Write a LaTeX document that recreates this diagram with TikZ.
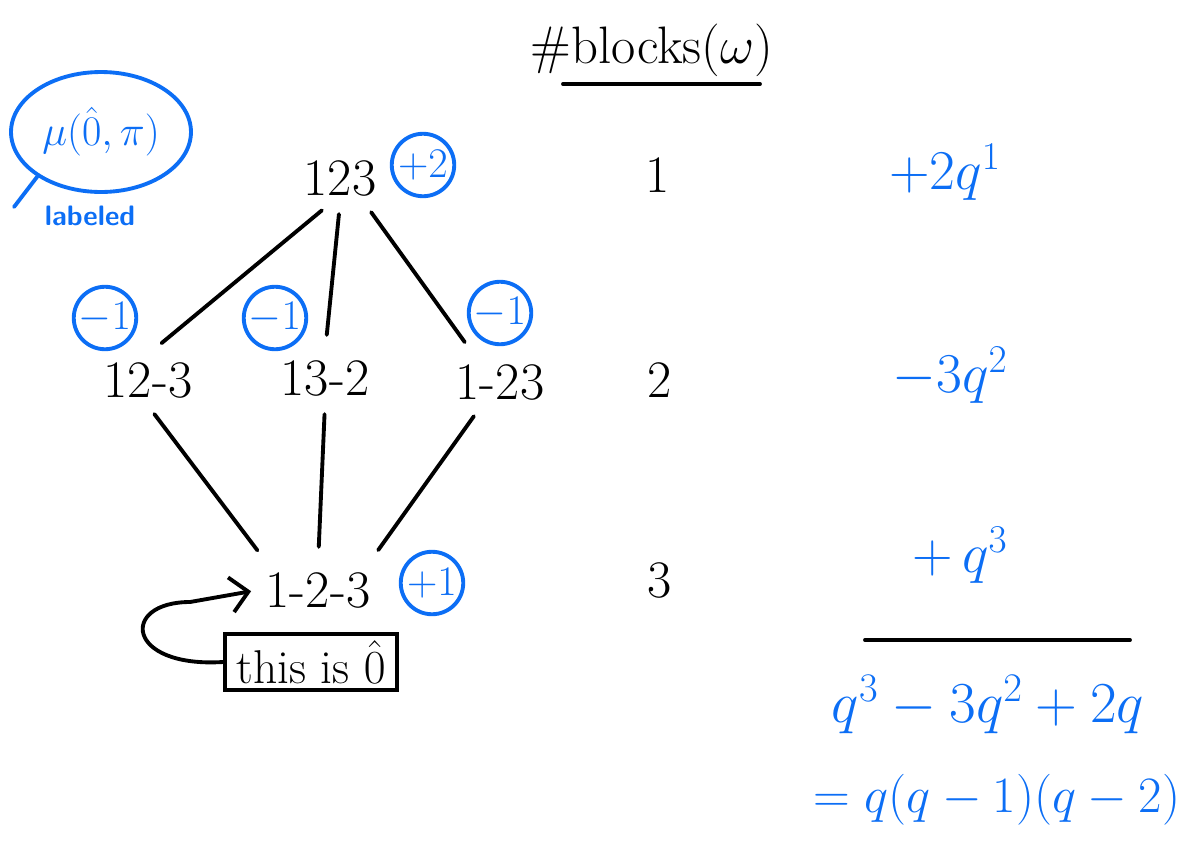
\RequirePackage{fix-cm}
\documentclass[tikz,border=0pt]{standalone}
\usetikzlibrary{arrows.meta,shapes.geometric}
\definecolor{penblue}{RGB}{12,110,245}
\begin{document}
\begin{tikzpicture}[x=0.02cm, y=-0.02cm, >={Straight Barb[length=10pt,width=20pt]},
  line width=2.2pt, line cap=round,
  every node/.style={font=\fontsize{30}{36}\selectfont},
  sign/.style={draw=penblue, text=penblue, circle, minimum size=1.25cm, inner sep=0pt, font=\fontsize{24}{28}\selectfont},
  term/.style={text=penblue, font=\fontsize{32}{38}\selectfont},
  link/.style={shorten <=6pt, shorten >=10pt}]
\useasboundingbox (0,0) rectangle (1183,856);

\node (title) at (652,50) {\#blocks($\omega$)};
\draw (563,84) -- (760,84);

\node[ellipse, draw=penblue, minimum width=3.6cm, minimum height=2.4cm, inner sep=1pt, text=penblue, font=\fontsize{24}{28}\selectfont] (mu) at (101,132) {$\mu(\hat{0},\pi)$};
\coordinate (mutail) at (14,207);
\draw[penblue] (mu.215) -- (mutail);
\node[text=penblue, font=\fontsize{16}{18}\selectfont\sffamily\bfseries] (lab) at (90,216) {labeled};

\node (b123) at (340,178) {123};
\node (b12) at (148,380) {12-3};
\node (b13) at (325,378) {13-2};
\node (b1) at (500,382) {1-23};
\node (b0) at (318,590) {1-2-3};

\node[sign] (s123) at (423,165) {$+2$};
\node[sign] (s12) at (105,318) {$-1$};
\node[sign] (s13) at (275,318) {$-1$};
\node[sign] (s1) at (500,313) {$-1$};
\node[sign] (s0) at (432,583) {$+1$};

\draw[link] ([xshift=-0.2cm]b123.south) -- (b12.north);
\draw[link] (b123.south) -- (b13.north);
\draw[link] ([xshift=0.5cm]b123.south) -- ([xshift=-0.5cm]b1.north);
\draw[link] (b12.south) -- ([xshift=-1cm]b0.north);
\draw[link] (b13.south) -- (b0.north);
\draw[link] ([xshift=-0.4cm]b1.south) -- ([xshift=1cm]b0.north);

\node[draw, minimum width=3.44cm, minimum height=1.1cm, font=\fontsize{27}{32}\selectfont] (note) at (311,662) {this is $\hat{0}$};
\draw[->, shorten >=4pt] (note.west) .. controls (125,668) and (120,602) .. (190,602) -- (b0.west);

\node (n1) at (658,175) {1};
\node (n2) at (660,380) {2};
\node (n3) at (660,580) {3};

\node[term] (t1) at (945,172) {$+2q^1$};
\node[term] (t2) at (950,375) {$-3q^2$};
\node[term] (t3) at (960,555) {$+\,q^3$};

\draw (865,640) -- (1130,640);
\node[term, font=\fontsize{33}{38}\selectfont] (den) at (988,705) {$q^3-3q^2+2q$};
\node[term, font=\fontsize{29}{34}\selectfont] (fac) at (997,800) {$=q(q-1)(q-2)$};
\end{tikzpicture}
\end{document}
